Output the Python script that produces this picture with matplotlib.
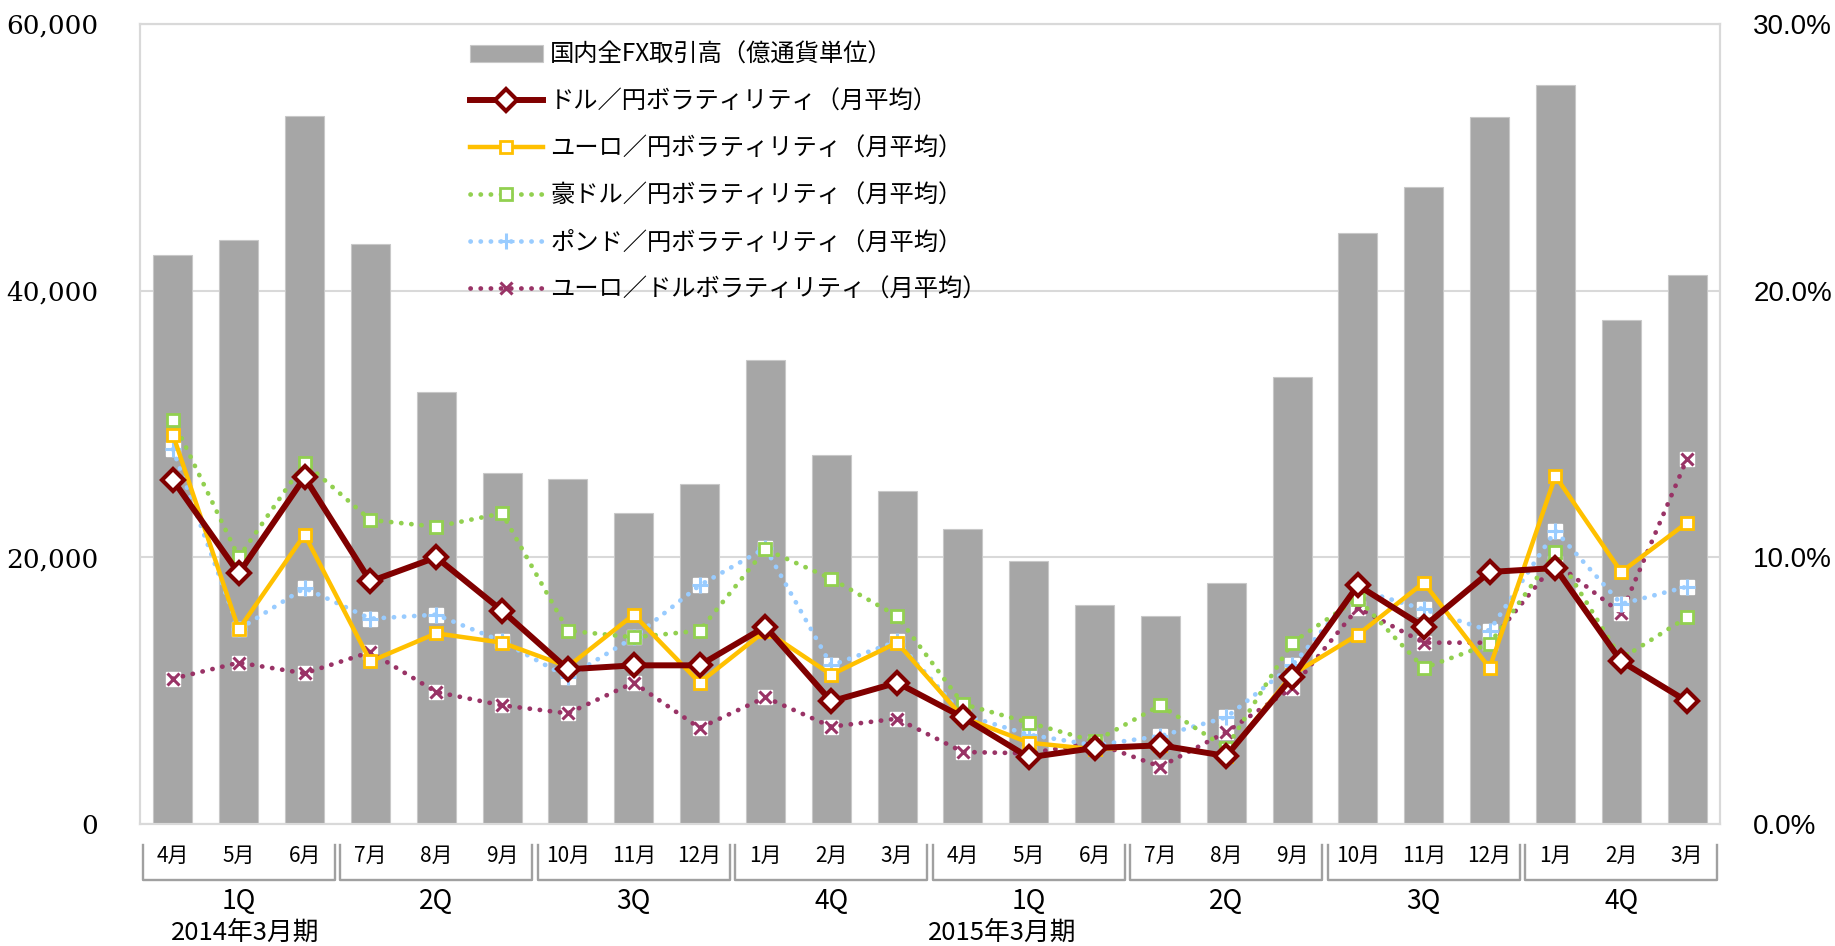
import numpy as np
import matplotlib
matplotlib.use("Agg")
from matplotlib import pyplot as plt
from matplotlib.ticker import FuncFormatter

plt.rcParams['font.family'] = ['Noto Sans CJK JP', 'DejaVu Sans']

# data
months = ['4月', '5月', '6月', '7月', '8月', '9月', '10月', '11月', '12月', '1月', '2月', '3月',
          '4月', '5月', '6月', '7月', '8月', '9月', '10月', '11月', '12月', '1月', '2月', '3月']
quarters = ['1Q', '2Q', '3Q', '4Q', '1Q', '2Q', '3Q', '4Q']
years = ['2014年3月期', '2015年3月期']

fx_volume = [42700, 43800, 53100, 43500, 32400, 26300, 25900, 23300, 25500, 34800, 27700, 25000,
             22100, 19700, 16400, 15600, 18100, 33500, 44300, 47800, 53000, 55400, 37800, 41200]
usd_jpy = [12.9, 9.4, 13.0, 9.1, 10.0, 8.0, 5.8, 5.95, 5.95, 7.4, 4.6, 5.3,
           4.0, 2.5, 2.85, 2.95, 2.55, 5.5, 8.95, 7.4, 9.45, 9.6, 6.1, 4.6]
eur_jpy = [14.6, 7.3, 10.85, 6.1, 7.15, 6.8, 5.9, 7.85, 5.3, 7.25, 5.6, 6.8,
           4.0, 3.05, 2.8, 2.95, 2.55, 5.6, 7.1, 9.05, 5.85, 13.05, 9.45, 11.3]
aud_jpy = [15.15, 10.0, 13.55, 11.4, 11.15, 11.65, 7.25, 7.0, 7.25, 10.3, 9.2, 7.8,
           4.5, 3.8, 3.1, 4.45, 2.85, 6.8, 8.45, 5.85, 6.75, 10.2, 6.2, 7.75]
gbp_jpy = [14.05, 7.3, 8.85, 7.7, 7.85, 6.85, 5.5, 7.0, 8.95, 10.35, 5.95, 6.85,
           4.1, 3.35, 2.95, 3.3, 4.0, 5.95, 8.8, 8.05, 7.25, 11.0, 8.25, 8.9]
eur_usd = [5.45, 6.05, 5.65, 6.45, 4.95, 4.45, 4.15, 5.3, 3.6, 4.75, 3.65, 3.95,
           2.7, 2.65, 3.05, 2.15, 3.45, 5.1, 8.1, 6.8, 6.8, 9.8, 7.9, 13.7]

x = np.arange(len(months))

fig = plt.figure(figsize=(18.35, 9.46), dpi=100)
ax = fig.add_axes([140 / 1835, 1 - 824 / 946, 1580 / 1835, 800 / 946])
ax2 = ax.twinx()

grid_c = '#d9d9d9'
ax.set_axisbelow(True)
ax.yaxis.grid(True, color=grid_c, lw=1.5)
bars = ax.bar(x, fx_volume, width=0.59, color='#a6a6a6', edgecolor='#c8c8c8', lw=0.8,
              label='国内全FX取引高（億通貨単位）')
ax.set_xlim(-0.5, len(months) - 0.5)
ax.set_ylim(0, 60000)
ax.set_yticks([0, 20000, 40000, 60000])
ax.yaxis.set_major_formatter(FuncFormatter(lambda v, p: f'{int(v):,}'))
ax.set_xticks([])
for a in (ax, ax2):
    for s in a.spines.values():
        s.set_color(grid_c)
        s.set_linewidth(1.5)
    a.tick_params(length=0)
ax.tick_params(axis='y', pad=30)
for t in ax.get_yticklabels():
    t.set_fontfamily('DejaVu Serif')
    t.set_fontsize(19)

ax2.set_ylim(0, 30)
ax2.set_yticks([0, 10, 20, 30])
ax2.yaxis.set_major_formatter(FuncFormatter(lambda v, p: f'{v:.1f}%'))
ax2.tick_params(axis='y', pad=24)
for t in ax2.get_yticklabels():
    t.set_fontfamily('Liberation Sans')
    t.set_fontsize(20)

dot = (0, (0.05, 2.1))
l1, = ax2.plot(x, usd_jpy, color='#800000', lw=4.3, marker='D', ms=11, mfc='white',
               mec='#800000', mew=3, label='ドル／円ボラティリティ（月平均）', zorder=6)
l2, = ax2.plot(x, eur_jpy, color='#ffc000', lw=3.2, marker='s', ms=8.5, mfc='white',
               mec='#ffc000', mew=2, label='ユーロ／円ボラティリティ（月平均）', zorder=5)
l3, = ax2.plot(x, aud_jpy, color='#92d050', lw=3.4, ls=dot, dash_capstyle='round', marker='s',
               ms=9, mfc='white', mec='#92d050', mew=2,
               label='豪ドル／円ボラティリティ（月平均）', zorder=4)
ax2.plot(x, gbp_jpy, ls='none', marker='s', ms=10, mfc='white', mec='white', zorder=3)
l4, = ax2.plot(x, gbp_jpy, color='#99ccff', lw=3.4, ls=dot, dash_capstyle='round', marker='+',
               ms=11, mew=2.2, label='ポンド／円ボラティリティ（月平均）', zorder=3)
ax2.plot(x, eur_usd, ls='none', marker='s', ms=10, mfc='white', mec='white', zorder=2)
l5, = ax2.plot(x, eur_usd, color='#993366', lw=3.4, ls=dot, dash_capstyle='round', marker='x',
               ms=9, mew=2.2, label='ユーロ／ドルボラティリティ（月平均）', zorder=2)

leg = ax2.legend(handles=[bars, l1, l2, l3, l4, l5], loc='upper left',
                 bbox_to_anchor=(470 / 1835, 1 - 42 / 946), bbox_transform=fig.transFigure,
                 frameon=False, fontsize=17.5, handlelength=3.0, handletextpad=0.3,
                 labelspacing=0.86, borderaxespad=0, borderpad=0)

# multi-level category axis below the plot
trans = ax.get_xaxis_transform()
base = 824
h = 800
for i, m in enumerate(months):
    ax.text(i, -(856 - base) / h, m, transform=trans, ha='center', va='center',
            fontsize=15, clip_on=False)
bc = '#a0a0a0'
for q, lab in enumerate(quarters):
    x0 = 3 * q - 0.5 + 0.045
    x1 = 3 * q + 2.5 - 0.045
    yt = -(845 - base) / h
    yb = -(880 - base) / h
    ax.plot([x0, x0, x1, x1], [yt, yb, yb, yt], transform=trans, color=bc, lw=1.7,
            clip_on=False)
    ax.text(3 * q + 1, -(901 - base) / h, lab, transform=trans, ha='center', va='center',
            fontsize=19, clip_on=False)
for xc, lab in zip([1.1, 12.6], years):
    ax.text(xc, -(933 - base) / h, lab, transform=trans, ha='center', va='center',
            fontsize=18.5, clip_on=False)

fig.savefig('out.png', dpi=100)
